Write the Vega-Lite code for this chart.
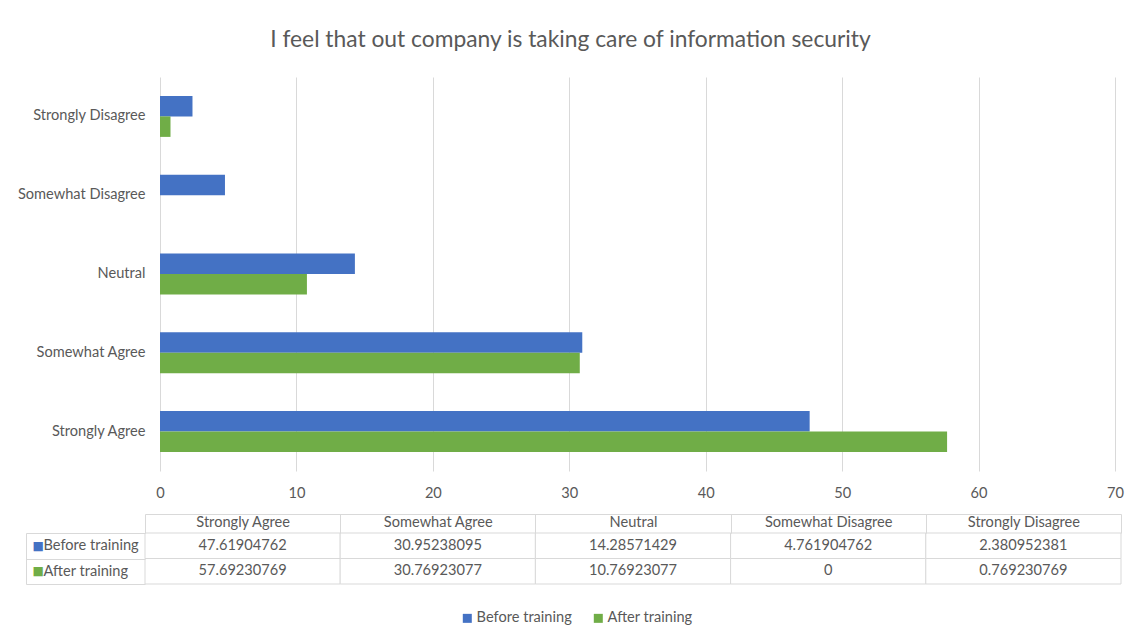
{
  "$schema": "https://vega.github.io/schema/vega-lite/v6.json",
  "background": "white",
  "padding": {"left": 17, "top": 29, "right": 8, "bottom": 10},
  "title": {"text": "I feel that out company is taking care of information security", "fontSize": 22.8, "font": "Lato", "fontWeight": "normal", "color": "#595959", "anchor": "middle", "frame": "bounds", "offset": 25},
  "config": {
    "font": "Lato",
    "view": {"stroke": null},
    "axis": {"labelFont": "Lato", "labelColor": "#595959", "labelFontSize": 14.6},
    "legend": {"labelFont": "Lato", "labelColor": "#595959", "labelFontSize": 14.6},
    "text": {"font": "Lato", "fontSize": 14.6, "color": "#595959"}
  },
  "datasets": {
    "survey": [
      {"response": "Strongly Agree", "group": "Before training", "value": 47.61904762},
      {"response": "Somewhat Agree", "group": "Before training", "value": 30.95238095},
      {"response": "Neutral", "group": "Before training", "value": 14.28571429},
      {"response": "Somewhat Disagree", "group": "Before training", "value": 4.761904762},
      {"response": "Strongly Disagree", "group": "Before training", "value": 2.380952381},
      {"response": "Strongly Agree", "group": "After training", "value": 57.69230769},
      {"response": "Somewhat Agree", "group": "After training", "value": 30.76923077},
      {"response": "Neutral", "group": "After training", "value": 10.76923077},
      {"response": "Somewhat Disagree", "group": "After training", "value": 0},
      {"response": "Strongly Disagree", "group": "After training", "value": 0.769230769}
    ]
  },
  "spacing": 13,
  "vconcat": [
    {
      "width": 970,
      "height": 394,
      "data": {"name": "survey"},
      "mark": {"type": "bar"},
      "encoding": {
        "y": {"field": "response", "type": "nominal",
              "sort": ["Strongly Disagree", "Somewhat Disagree", "Neutral", "Somewhat Agree", "Strongly Agree"],
              "scale": {"paddingInner": 0.48, "paddingOuter": 0.24},
              "axis": {"title": null, "domain": false, "ticks": false, "labelPadding": 0, "grid": false}},
        "x": {"field": "value", "type": "quantitative",
              "scale": {"domain": [-1.0995, 70], "nice": false, "zero": false},
              "axis": {"title": null, "values": [0, 10, 20, 30, 40, 50, 60, 70], "domain": false, "ticks": false, "labelPadding": 14, "labelFlush": false, "grid": true, "gridColor": "#D9D9D9"}},
        "yOffset": {"field": "group", "type": "nominal", "sort": ["Before training", "After training"], "scale": {"paddingInner": 0, "paddingOuter": 0}},
        "color": {"field": "group", "type": "nominal",
                  "scale": {"domain": ["Before training", "After training"], "range": ["#4472C4", "#70AD47"]},
                  "legend": {"title": null, "orient": "none", "direction": "horizontal", "legendX": 315, "legendY": 534, "symbolType": "square", "symbolSize": 81, "symbolStrokeWidth": 0, "labelOffset": 2, "columnPadding": 19}}
      }
    },
    {
      "width": 976,
      "height": 51,
      "data": {"name": "survey"},
      "encoding": {
        "x": {"field": "response", "type": "nominal",
              "sort": ["Strongly Agree", "Somewhat Agree", "Neutral", "Somewhat Disagree", "Strongly Disagree"],
              "scale": {"paddingInner": 0, "paddingOuter": 0},
              "axis": {"orient": "top", "title": null, "offset": 19, "domain": true, "domainColor": "#D9D9D9", "ticks": true, "tickBand": "extent", "tickSize": -19, "tickColor": "#D9D9D9", "labelPadding": 4, "labelAngle": 0, "grid": false}}
      },
      "layer": [
        {
          "mark": {"type": "rect", "fill": "white", "stroke": "#D9D9D9", "strokeWidth": 1},
          "encoding": {
            "y": {"field": "group", "type": "nominal", "sort": ["Before training", "After training"],
                  "scale": {"paddingInner": 0, "paddingOuter": 0},
                  "axis": {"orient": "left", "title": null, "domain": false, "ticks": true, "tickBand": "extent", "tickSize": 119, "tickColor": "#D9D9D9", "labelAlign": "left", "labelBaseline": "middle", "labelPadding": -17, "grid": false}}
          }
        },
        {
          "mark": {"type": "text", "baseline": "middle", "dy": 0},
          "encoding": {
            "y": {"field": "group", "type": "nominal", "sort": ["Before training", "After training"],
                  "scale": {"paddingInner": 0, "paddingOuter": 0},
                  "axis": {"orient": "left", "offset": 119, "title": null, "domain": true, "domainColor": "#D9D9D9", "ticks": false,
                           "labelExpr": "'■'", "labelFont": "DejaVu Sans", "labelFontSize": 12, "labelAlign": "left", "labelBaseline": "middle", "labelPadding": -6,
                           "labelColor": {"condition": {"test": "datum.value === 'Before training'", "value": "#4472C4"}, "value": "#70AD47"}, "grid": false}},
            "text": {"field": "value", "type": "nominal"}
          }
        }
      ],
      "resolve": {"axis": {"y": "independent"}}
    }
  ]
}
